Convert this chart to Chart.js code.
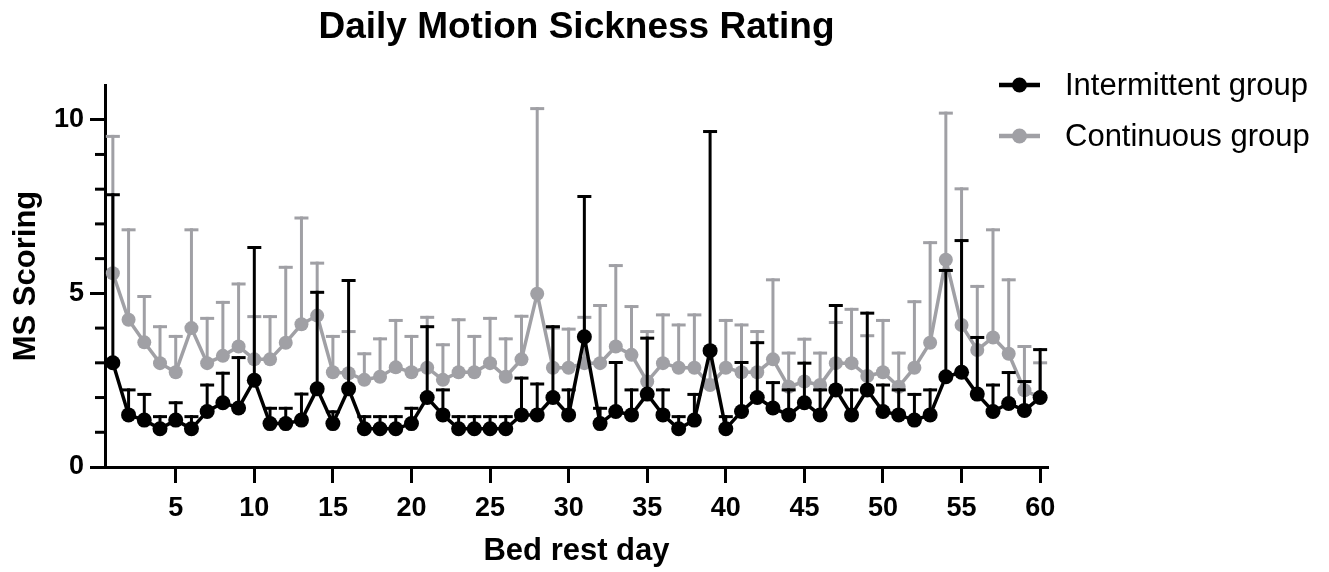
<!DOCTYPE html>
<html>
<head>
<meta charset="utf-8">
<script src="https://cdn.jsdelivr.net/npm/chart.js@4.4.1/dist/chart.umd.min.js"></script>
<style>
  html, body { margin: 0; padding: 0; background: #fff; }
  #wrap { width: 1329px; height: 572px; position: relative; }
</style>
</head>
<body>
<div id="wrap"><canvas id="c" width="1329" height="572"></canvas></div>
<script>
const days = [1,2,3,4,5,6,7,8,9,10,11,12,13,14,15,16,17,18,19,20,21,22,23,24,25,26,27,28,29,30,31,32,33,34,35,36,37,38,39,40,41,42,43,44,45,46,47,48,49,50,51,52,53,54,55,56,57,58,59,60];

const intermittentMean = [3.0,1.5,1.35,1.1,1.35,1.1,1.6,1.85,1.7,2.5,1.25,1.25,1.35,2.25,1.25,2.25,1.1,1.1,1.1,1.25,2.0,1.5,1.1,1.1,1.1,1.1,1.5,1.5,2.0,1.5,3.75,1.25,1.6,1.5,2.1,1.5,1.1,1.35,3.35,1.1,1.6,2.0,1.7,1.5,1.85,1.5,2.22,1.5,2.22,1.6,1.5,1.35,1.5,2.6,2.73,2.1,1.6,1.83,1.63,2.0];
const intermittentUpper = [7.84,2.22,2.09,1.45,1.85,1.45,2.36,2.7,3.15,6.32,1.69,1.69,2.1,5.03,1.59,5.37,1.45,1.45,1.45,1.69,4.04,2.22,1.45,1.45,1.45,1.45,2.56,2.39,4.04,2.22,7.79,1.69,3.01,2.22,3.71,2.22,1.45,2.09,9.66,1.45,3.01,3.58,2.43,2.22,2.99,2.22,4.65,2.22,4.43,2.36,2.22,2.09,2.22,5.66,6.52,3.73,2.36,2.72,2.46,3.38];

const continuousMean = [5.58,4.24,3.59,2.99,2.73,4.0,2.99,3.2,3.47,3.1,3.1,3.58,4.11,4.36,2.73,2.7,2.51,2.6,2.87,2.73,2.86,2.51,2.73,2.73,2.99,2.6,3.1,4.99,2.86,2.86,2.99,2.99,3.47,3.23,2.46,2.99,2.86,2.86,2.36,2.86,2.73,2.73,3.1,2.31,2.46,2.36,2.99,2.99,2.62,2.73,2.31,2.86,3.58,5.97,4.09,3.37,3.73,3.26,2.21,2.0];
const continuousUpper = [9.52,6.83,4.91,4.04,3.76,6.83,4.28,4.74,5.27,4.33,4.33,5.75,7.17,5.87,3.76,3.9,3.26,3.69,4.22,3.76,4.31,3.52,4.24,3.76,4.28,3.69,4.34,10.32,4.0,3.97,4.31,4.65,5.8,4.62,3.9,4.38,4.09,4.38,3.3,4.22,4.09,3.9,5.39,3.28,3.68,3.28,4.16,4.54,3.78,4.22,3.28,4.76,6.46,10.19,8.01,5.2,6.83,5.39,3.47,3.0];

const xTicks = [5,10,15,20,25,30,35,40,45,50,55,60];
const yTicks = [0,5,10];
const yMinorTicks = [1,2,3,4,6,7,8,9];

const seriesLabels = ['Intermittent group', 'Continuous group'];
const BLACK = '#000000';
const GRAY = '#a0a0a5';
const FONT = "'Liberation Sans', Arial, Helvetica, sans-serif";

function pts(means) { return days.map((d, i) => ({ x: d, y: means[i] })); }

const errorBars = {
  id: 'errorBars',
  beforeDatasetDraw(chart, args) {
    const ds = chart.data.datasets[args.index];
    const xs = chart.scales.x, ys = chart.scales.y, ctx = chart.ctx;
    ctx.save();
    ctx.strokeStyle = ds.borderColor;
    ctx.lineWidth = 3;
    ctx.lineCap = 'butt';
    ds.data.forEach((p, i) => {
      const x = xs.getPixelForValue(p.x);
      const y0 = ys.getPixelForValue(p.y);
      const y1 = ys.getPixelForValue(ds.errTop[i]);
      ctx.beginPath(); ctx.moveTo(x, y0); ctx.lineTo(x, y1 - 1.5); ctx.stroke();
      ctx.beginPath(); ctx.moveTo(x - 7, y1); ctx.lineTo(x + 7, y1); ctx.stroke();
    });
    ctx.restore();
  }
};

const minorTicks = {
  id: 'minorTicks',
  afterDraw(chart) {
    const ys = chart.scales.y, ctx = chart.ctx, left = chart.chartArea.left;
    ctx.save();
    ctx.strokeStyle = BLACK; ctx.lineWidth = 3;
    yMinorTicks.forEach(v => {
      const y = ys.getPixelForValue(v);
      ctx.beginPath(); ctx.moveTo(left - 10, y); ctx.lineTo(left, y); ctx.stroke();
    });
    ctx.restore();
  }
};

const sideLegend = {
  id: 'sideLegend',
  afterDraw(chart) {
    const ctx = chart.ctx;
    const lx = 999, ly = 85, gap = 51;
    ctx.save();
    chart.data.datasets.forEach((ds, i) => {
      const y = ly + i * gap;
      ctx.strokeStyle = ds.borderColor; ctx.lineWidth = 4.5;
      ctx.beginPath(); ctx.moveTo(lx, y); ctx.lineTo(lx + 41, y); ctx.stroke();
      ctx.fillStyle = ds.borderColor;
      ctx.beginPath(); ctx.arc(lx + 20.5, y, 7.5, 0, Math.PI * 2); ctx.fill();
      ctx.fillStyle = BLACK;
      ctx.font = '31px ' + FONT;
      ctx.textBaseline = 'middle';
      ctx.textAlign = 'left';
      ctx.fillText(ds.label, lx + 66, y + 1);
    });
    ctx.restore();
  }
};

new Chart(document.getElementById('c'), {
  type: 'line',
  data: {
    datasets: [
      { label: seriesLabels[0], data: pts(intermittentMean), errTop: intermittentUpper,
        borderColor: BLACK, backgroundColor: BLACK, pointBackgroundColor: BLACK,
        borderWidth: 3.5, pointRadius: 7.5, pointBorderWidth: 0, tension: 0 },
      { label: seriesLabels[1], data: pts(continuousMean), errTop: continuousUpper,
        borderColor: GRAY, backgroundColor: GRAY, pointBackgroundColor: GRAY,
        borderWidth: 3.5, pointRadius: 7, pointBorderWidth: 0, tension: 0 }
    ]
  },
  options: {
    responsive: false,
    animation: false,
    events: [],
    layout: { padding: { left: 0, right: 281, top: 0, bottom: 0 } },
    plugins: {
      legend: { display: false },
      tooltip: { enabled: false },
      title: {
        display: true, text: 'Daily Motion Sickness Rating', fullSize: false,
        color: BLACK, font: { family: FONT, size: 37, weight: 'bold' },
        padding: { top: 6, bottom: 34.6 }
      }
    },
    scales: {
      x: {
        type: 'linear', min: 0.5, max: 60.5,
        afterBuildTicks: ax => { ax.ticks = xTicks.map(v => ({ value: v })); },
        afterFit: s => { s.height = 105; },
        grid: { display: true, drawOnChartArea: false, tickLength: 16, tickWidth: 3, tickColor: BLACK },
        border: { display: true, color: BLACK, width: 3 },
        ticks: { color: BLACK, font: { family: FONT, size: 27, weight: 'bold' }, padding: 9, maxRotation: 0, autoSkip: false },
        title: { display: true, text: 'Bed rest day', color: BLACK,
          font: { family: FONT, size: 31, weight: 'bold' }, padding: { top: 0, bottom: 2 } }
      },
      y: {
        type: 'linear', min: 0, max: 11,
        afterBuildTicks: ax => { ax.ticks = yTicks.map(v => ({ value: v })); },
        afterFit: s => { s.width = 105; },
        grid: { display: true, drawOnChartArea: false, tickLength: 15, tickWidth: 3, tickColor: BLACK },
        border: { display: true, color: BLACK, width: 3 },
        ticks: { color: BLACK, font: { family: FONT, size: 27, weight: 'bold' }, padding: 6 },
        title: { display: true, text: 'MS Scoring', color: BLACK,
          font: { family: FONT, size: 31, weight: 'bold' }, padding: { top: 8, bottom: 0 } }
      }
    }
  },
  plugins: [errorBars, minorTicks, sideLegend]
});
</script>
</body>
</html>
